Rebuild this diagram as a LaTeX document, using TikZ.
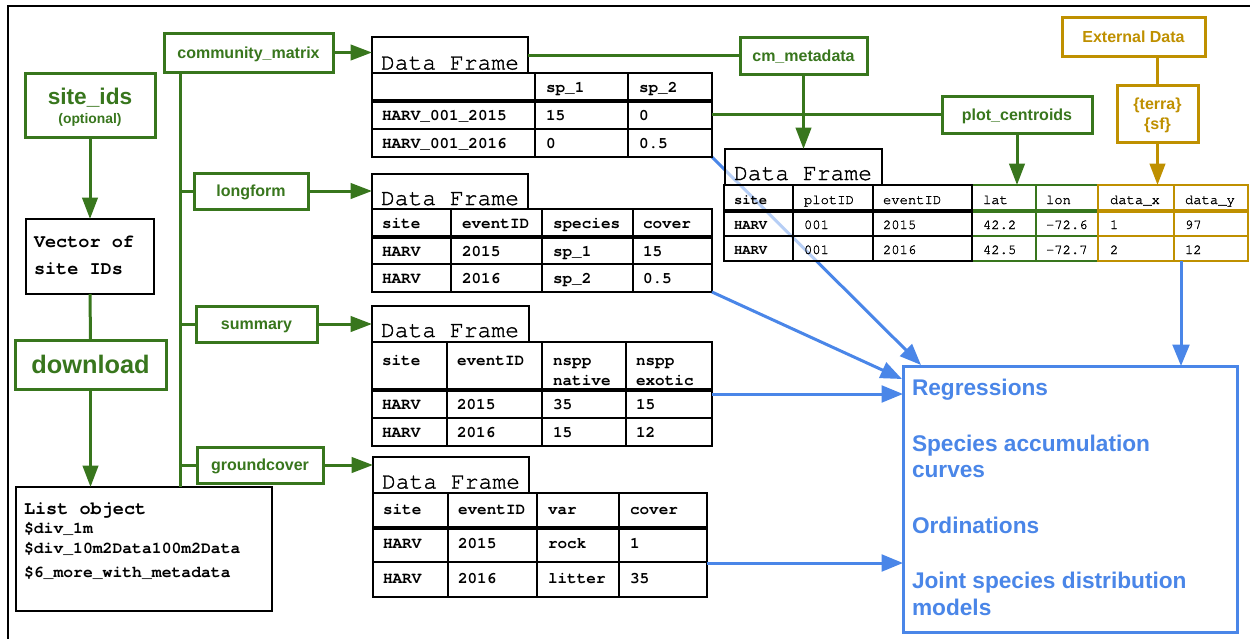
\documentclass[tikz,border=0pt]{standalone}
\usepackage{fontspec}
\setmainfont{Liberation Sans}
\setmonofont{TeX Gyre Cursor}
\newfontfamily\monomed{TeX Gyre Cursor}[FakeBold=1.3]
\usetikzlibrary{arrows.meta}
\definecolor{dgreen}{HTML}{38761D}
\definecolor{dgold}{HTML}{BF9000}
\definecolor{dblue}{HTML}{4A86E8}
\newcommand\fsz[2]{\fontsize{#1}{#2}\selectfont}
% rectangle node spanning (x1,y1)-(x2,y2) in pixel units: style, name, x1, y1, x2, y2, text
\newcommand\boxnode[7]{\node[#1, minimum width={(#5-#3)*0.75pt}, minimum height={(#6-#4)*0.75pt}] (#2) at ({(#3+#5)/2},{(#4+#6)/2}) {#7};}
\tikzset{
  every node/.style={inner sep=0pt, outer sep=0pt},
  gbox/.style={draw=dgreen, line width=2.25pt, fill=white, text=dgreen, font=\bfseries\fsz{12}{14}, text height=8.6pt, text depth=0pt},
  obox/.style={draw=dgold, line width=2.25pt, fill=white, text=dgold, font=\bfseries\fsz{12}{14}, text height=8.6pt, text depth=0pt},
  kbox/.style={draw=black, line width=1.2pt, fill=white},
  tbox/.style={draw=black, line width=1.1pt, fill=white},
  fadebox/.style={draw=black, line width=1.1pt, fill=white, fill opacity=0.6},
  bbox/.style={draw=dblue, line width=2.25pt, fill=white},
  gline/.style={dgreen, line width=2.25pt},
  oline/.style={dgold, line width=2.25pt},
  bline/.style={dblue, line width=2.25pt},
  arrowhd/.style={-{Triangle[length=16pt,width=11.5pt]}},
  barrowhd/.style={-{Triangle[length=16pt,width=12.5pt]}},
  tabrule/.style={line width=1.1pt},
  headrule/.style={line width=2.4pt},
  tcell/.style={anchor=base west, font=\ttfamily\bfseries\fsz{12}{14}},
  scell/.style={anchor=base west, font=\monomed\fsz{10.4}{12}},
  sbcell/.style={anchor=base west, font=\ttfamily\bfseries\fsz{10.4}{12}},
  dftitle/.style={anchor=base west, font=\monomed\fsz{17.25}{20}},
  vtext/.style={anchor=base west, font=\ttfamily\bfseries\fsz{13.9}{16}},
  ltext/.style={anchor=base west, font=\ttfamily\bfseries\fsz{12.3}{14}},
  btext/.style={anchor=base west, text=dblue, font=\bfseries\fsz{17}{20}},
}
\begin{document}
\begin{tikzpicture}[x=0.75pt, y=-0.75pt]
\useasboundingbox (0,0) rectangle (1250,639);
% page frame
\draw[line width=2pt] (8,639) -- (8,6) -- (1250,6);

% ---------- left column ----------
\boxnode{gbox}{sid}{25}{73}{155}{137}{}
\node[anchor=base, text=dgreen, font=\bfseries\fsz{17}{20}] (sidt) at (90,104) {site\_ids};
\node[anchor=base, text=dgreen, font=\bfseries\fsz{10.4}{12}] (sido) at (90,123) {(optional)};

\boxnode{kbox}{vec}{26}{219}{154}{294}{}
\node[vtext] (vec1) at (34,247) {Vector of};
\node[vtext] (vec2) at (34,274) {site IDs};

\boxnode{gbox, font=\bfseries\fsz{19}{22}, text height=13.6pt}{dl}{15}{340}{166}{389}{download}

\boxnode{kbox}{lst}{16}{487}{272}{611}{}
\node[vtext] (lst1) at (24,514) {List object};
\node[ltext] (lst2) at (24,533) {\$div\_1m};
\node[ltext] (lst3) at (24,553) {\$div\_10m2Data100m2Data};
\node[ltext] (lst4) at (24,577) {\$6\_more\_with\_metadata};

\draw[gline, arrowhd] (sid.south) -- (vec.north);
\draw[gline] (vec.south) -- (dl.north);
\draw[gline, arrowhd] (dl.south) -- (dl.south |- lst.north);

% ---------- function boxes ----------
\boxnode{gbox}{cm}{164}{33}{333}{72}{community\_matrix}
\boxnode{gbox}{lf}{194}{173}{308}{209}{longform}
\boxnode{gbox}{sm}{196}{306}{317}{342}{summary}
\boxnode{gbox}{gc}{197}{447}{323}{483}{groundcover}

\coordinate (trunk) at (180,0);
\draw[gline] (trunk |- cm.south) -- (trunk |- lst.north);
\draw[gline] (trunk |- lf.west) -- (lf.west);
\draw[gline] (trunk |- sm.west) -- (sm.west);
\draw[gline] (trunk |- gc.west) -- (gc.west);

% ---------- the arrow that runs under the joined table ----------
\coordinate (df1-se) at (712,157);
\coordinate (an-in1) at (921,365);
\draw[bline, barrowhd] (df1-se) -- (an-in1);

% ---------- joined data frame ----------
\boxnode{fadebox}{df5t}{725}{149}{882}{185}{}
\node[dftitle] (df5tt) at (734,180) {Data Frame};
\boxnode{fadebox, draw=dgreen, line width=1pt}{df5g}{972}{185}{1098}{261}{}
\draw[dgreen, line width=1pt] (1036,185) -- (1036,261) (972,236) -- (1098,236);
\draw[dgreen, headrule] (972,211) -- (1098,211);
\boxnode{fadebox, draw=dgold, line width=1pt}{df5o}{1098}{185}{1248}{261}{}
\draw[dgold, line width=1pt] (1174,185) -- (1174,261) (1098,236) -- (1248,236);
\draw[dgold, headrule] (1098,211) -- (1248,211);
\boxnode{fadebox}{df5}{724}{185}{972}{261}{}
\draw[tabrule] (793,185) -- (793,261) (873,185) -- (873,261) (724,236) -- (972,236);
\draw[headrule] (724,211) -- (972,211);
\node[sbcell] (df5-h1) at (734,204) {site};
\foreach \t/\x [count=\i] in {plotID/804, eventID/883, lat/983, lon/1046, data\_x/1110, data\_y/1185}
  \node[scell] (df5-h\i x) at (\x,204) {\t};
\node[sbcell] (df5-a1) at (734,229) {HARV};
\foreach \t/\x [count=\i] in {001/804, 2015/883, 42.2/983, -72.6/1046, 1/1110, 97/1185}
  \node[scell] (df5-a\i x) at (\x,229) {\t};
\node[sbcell] (df5-b1) at (734,254) {HARV};
\foreach \t/\x [count=\i] in {001/804, 2016/883, 42.5/983, -72.7/1046, 2/1110, 12/1185}
  \node[scell] (df5-b\i x) at (\x,254) {\t};

% ---------- community matrix frame ----------
\boxnode{tbox}{df1t}{372}{37}{528}{73}{}
\node[dftitle] (df1tt) at (381,69.5) {Data Frame};
\boxnode{tbox}{df1}{372}{73}{712}{157}{}
\draw[tabrule] (535,73) -- (535,157) (628,73) -- (628,157) (372,129) -- (712,129);
\draw[headrule] (372,101) -- (712,101);
\node[tcell] (df1-h2) at (546,92.5) {sp\_1};
\node[tcell] (df1-h3) at (639,92.5) {sp\_2};
\foreach \a/\b/\c/\y [count=\i] in {HARV\_001\_2015/15/0/120.5, HARV\_001\_2016/0/0.5/148.5}{
  \node[tcell] (df1-r\i a) at (382,\y) {\a};
  \node[tcell] (df1-r\i b) at (546,\y) {\b};
  \node[tcell] (df1-r\i c) at (639,\y) {\c};
}

% ---------- long form frame ----------
\boxnode{tbox}{df2t}{372}{174}{528}{209}{}
\node[dftitle] (df2tt) at (381,205) {Data Frame};
\boxnode{tbox}{df2}{372}{209}{712}{292}{}
\draw[tabrule] (451,209) -- (451,292) (542,209) -- (542,292) (633,209) -- (633,292) (372,264) -- (712,264);
\draw[headrule] (372,237) -- (712,237);
\foreach \a/\b/\c/\d/\y [count=\i] in {site/eventID/species/cover/228.5, HARV/2015/sp\_1/15/256, HARV/2016/sp\_2/0.5/283.5}{
  \node[tcell] (df2-r\i a) at (382,\y) {\a};
  \node[tcell] (df2-r\i b) at (462,\y) {\b};
  \node[tcell] (df2-r\i c) at (553,\y) {\c};
  \node[tcell] (df2-r\i d) at (643,\y) {\d};
}

% ---------- summary frame ----------
\boxnode{tbox}{df3t}{372}{306}{529}{342}{}
\node[dftitle] (df3tt) at (381,337) {Data Frame};
\boxnode{tbox}{df3}{372}{342}{712}{446}{}
\draw[tabrule] (447,342) -- (447,446) (542,342) -- (542,446) (626,342) -- (626,446) (372,418) -- (712,418);
\draw[headrule] (372,390) -- (712,390);
\node[tcell] (df3-h1) at (382,365) {site};
\node[tcell] (df3-h2) at (457,365) {eventID};
\node[tcell] (df3-h3) at (553,365) {nspp};
\node[tcell] (df3-h3b) at (553,385) {native};
\node[tcell] (df3-h4) at (636,365) {nspp};
\node[tcell] (df3-h4b) at (636,385) {exotic};
\foreach \a/\b/\c/\d/\y [count=\i] in {HARV/2015/35/15/409.5, HARV/2016/15/12/437.5}{
  \node[tcell] (df3-r\i a) at (382,\y) {\a};
  \node[tcell] (df3-r\i b) at (457,\y) {\b};
  \node[tcell] (df3-r\i c) at (553,\y) {\c};
  \node[tcell] (df3-r\i d) at (636,\y) {\d};
}

% ---------- ground cover frame ----------
\boxnode{tbox}{df4t}{373}{457}{529}{493}{}
\node[dftitle] (df4tt) at (382,488.5) {Data Frame};
\boxnode{tbox}{df4}{373}{493}{707}{597}{}
\draw[tabrule] (448,493) -- (448,597) (537,493) -- (537,597) (619,493) -- (619,597) (373,562) -- (707,562);
\draw[headrule] (373,528) -- (707,528);
\foreach \a/\b/\c/\d/\y [count=\i] in {site/eventID/var/cover/514, HARV/2015/rock/1/548, HARV/2016/litter/35/583}{
  \node[tcell] (df4-r\i a) at (383,\y) {\a};
  \node[tcell] (df4-r\i b) at (458,\y) {\b};
  \node[tcell] (df4-r\i c) at (548,\y) {\c};
  \node[tcell] (df4-r\i d) at (630,\y) {\d};
}

% ---------- arrows into the frames ----------
\draw[gline, arrowhd] (cm.east) -- (cm.east -| df1t.west);
\draw[gline, arrowhd] (lf.east) -- (lf.east -| df2t.west);
\draw[gline, arrowhd] (sm.east) -- (sm.east -| df3t.west);
\draw[gline, arrowhd] (gc.east) -- (gc.east -| df4t.west);

% ---------- metadata joins ----------
\boxnode{gbox}{cmm}{740}{37}{867}{74}{cm\_metadata}
\boxnode{gbox}{pc}{942}{96}{1092}{133}{plot\_centroids}
\boxnode{obox}{ext}{1062}{17}{1205}{56}{External Data}
\boxnode{obox}{terra}{1117}{85}{1198}{142}{}
\node[anchor=base, text=dgold, font=\bfseries\fsz{12}{14}] (terra1) at (1157.5,109) {\{terra\}};
\node[anchor=base, text=dgold, font=\bfseries\fsz{12}{14}] (terra2) at (1157.5,129) {\{sf\}};

\draw[gline] (df1t.east) -- (df1t.east -| cmm.west);
\draw[gline] (df1.east |- pc.west) -- (pc.west);
\draw[gline, arrowhd] (cmm.south) -- (cmm.south |- df5t.north);
\draw[gline, arrowhd] (pc.south) -- (pc.south |- df5g.north);
\draw[oline] (ext.south -| terra.north) -- (terra.north);
\draw[oline, arrowhd] (terra.south) -- (terra.south |- df5o.north);

% ---------- analyses ----------
\boxnode{bbox}{an}{903}{366}{1237}{632}{}
\node[btext] (an1) at (912,395) {Regressions};
\node[btext] (an2) at (912,451) {Species accumulation};
\node[btext] (an2b) at (912,477) {curves};
\node[btext] (an3) at (912,533) {Ordinations};
\node[btext] (an4) at (912,588) {Joint species distribution};
\node[btext] (an4b) at (912,615) {models};

\coordinate (an-in2) at (902,379);
\coordinate (df4-out) at (707,563);
\coordinate (dy-out) at (1181,261);
\draw[bline, barrowhd] (df2.south east) -- (an-in2);
\draw[bline, barrowhd] (df3.east) -- (df3.east -| an.west);
\draw[bline, barrowhd] (df4-out) -- (df4-out -| an.west);
\draw[bline, barrowhd] (dy-out) -- (dy-out |- an.north);
\end{tikzpicture}
\end{document}
